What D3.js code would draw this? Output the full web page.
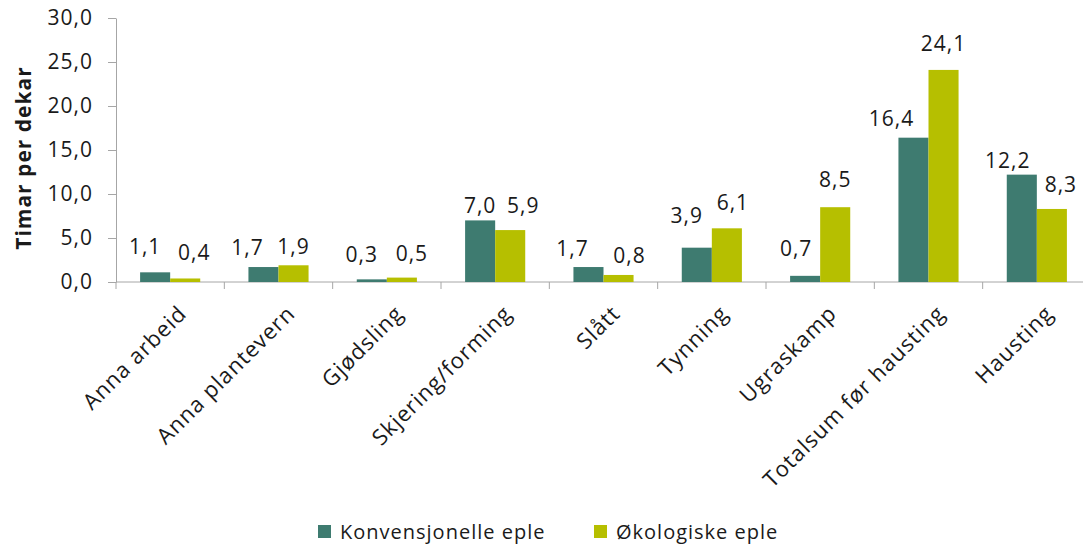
<!DOCTYPE html>
<html>
<head>
<meta charset="utf-8">
<script src="https://cdn.jsdelivr.net/npm/d3@7"></script>
<style>
  body { margin: 0; background: #fff; }
  text { font-family: "Open Sans", "DejaVu Sans", sans-serif; fill: #1a1a1a; letter-spacing: 1px; }
</style>
</head>
<body>
<script>
// data
var categories = ["Anna arbeid", "Anna plantevern", "Gjødsling", "Skjering/forming", "Slått",
                  "Tynning", "Ugraskamp", "Totalsum før hausting", "Hausting"];
var seriesNames = ["Konvensjonelle eple", "Økologiske eple"];
var konvensjonelle = [1.1, 1.7, 0.3, 7.0, 1.7, 3.9, 0.7, 16.4, 12.2];
var okologiske = [0.4, 1.9, 0.5, 5.9, 0.8, 6.1, 8.5, 24.1, 8.3];
var yTicks = [0, 5, 10, 15, 20, 25, 30];
var colors = ["#3e7b70", "#b6bf00"];

// value labels were moved by hand in the original: [dx from bar centre, gap above bar]
var nudgeKonv = [[-10, 18], [-16, 12], [-10, 17], [0, 7], [-16, 11], [-10, 25], [-9, 20], [-22, 12], [-14, 7]];
var nudgeOko = [[9, 18], [0, 11], [10, 17], [13, 17], [11, 12], [6, 18], [0, 20], [0, 19], [9, 17]];
var nudges = [nudgeKonv, nudgeOko];

var width = 1083, height = 546;
var svg = d3.select("body").append("svg")
  .attr("width", width)
  .attr("height", height);

var x = d3.scaleBand()
  .domain(categories)
  .range([116, 1091])
  .paddingInner(0.445)
  .paddingOuter(0.2225);

var xSub = d3.scaleBand()
  .domain(seriesNames)
  .range([0, x.bandwidth()]);

var y = d3.scaleLinear()
  .domain([0, 30])
  .range([282, 18]);

var fmt = function(v) { return d3.format(".1f")(v).replace(".", ","); };

/* y axis */
var yAxis = svg.append("g")
  .attr("transform", "translate(116,0)")
  .call(d3.axisLeft(y).tickValues(yTicks).tickSize(8).tickSizeOuter(0).tickPadding(15).tickFormat(fmt));
yAxis.select(".domain").attr("stroke", "#a6a6a6");
yAxis.selectAll(".tick line").attr("stroke", "#a6a6a6");
yAxis.selectAll("text").style("font-size", "21px").style("font-family", null).attr("fill", "#1a1a1a");

svg.append("text")
  .attr("transform", "translate(31,158) rotate(-90)")
  .attr("text-anchor", "middle")
  .style("font-size", "21px")
  .style("font-weight", "bold")
  .text("Timar per dekar");

/* x axis with ticks between categories */
var step = x.step();
var boundaries = d3.range(categories.length + 1).map(function(i) { return 116 + i * step; });
svg.append("line")
  .attr("x1", 116).attr("x2", width)
  .attr("y1", y(0)).attr("y2", y(0))
  .attr("stroke", "#a6a6a6");
svg.append("g").selectAll("line")
  .data(boundaries)
  .enter().append("line")
    .attr("x1", function(d) { return d; })
    .attr("x2", function(d) { return d; })
    .attr("y1", y(0))
    .attr("y2", y(0) + 7)
    .attr("stroke", "#a6a6a6");

/* bars */
var rows = categories.map(function(c, i) {
  return { cat: c, i: i, values: [konvensjonelle[i], okologiske[i]] };
});

var groups = svg.append("g").selectAll("g")
  .data(rows)
  .enter().append("g")
    .attr("transform", function(d) { return "translate(" + x(d.cat) + ",0)"; });

function cells(d) {
  return d.values.map(function(v, j) { return { s: seriesNames[j], v: v, j: j, n: nudges[j][d.i] }; });
}

groups.selectAll("rect")
  .data(cells)
  .enter().append("rect")
    .attr("x", function(d) { return xSub(d.s); })
    .attr("width", xSub.bandwidth())
    .attr("y", function(d) { return y(d.v); })
    .attr("height", function(d) { return y(0) - y(d.v); })
    .attr("fill", function(d) { return colors[d.j]; });

groups.selectAll("text.val")
  .data(cells)
  .enter().append("text")
    .attr("class", "val")
    .attr("x", function(d) { return xSub(d.s) + xSub.bandwidth() / 2 + d.n[0]; })
    .attr("y", function(d) { return y(d.v) - d.n[1]; })
    .attr("text-anchor", "middle")
    .style("font-size", "21px")
    .text(function(d) { return fmt(d.v); });

/* category labels, rotated */
svg.append("g").selectAll("text")
  .data(categories)
  .enter().append("text")
    .attr("transform", function(d) {
      return "translate(" + (x(d) + x.bandwidth() / 2 + 7) + "," + 304 + ") rotate(-45)";
    })
    .attr("text-anchor", "end")
    .attr("dy", "0.7em")
    .style("font-size", "22px")
    .text(function(d) { return d; });

/* legend */
var legendX = [318, 594];
var legend = svg.append("g").selectAll("g")
  .data(seriesNames)
  .enter().append("g")
    .attr("transform", function(d, i) { return "translate(" + legendX[i] + ",525)"; });
legend.append("rect")
  .attr("width", 13).attr("height", 13)
  .attr("fill", function(d, i) { return colors[i]; });
legend.append("text")
  .attr("x", 22).attr("y", 14)
  .style("font-size", "20px")
  .text(function(d) { return d; });
</script>
</body>
</html>
